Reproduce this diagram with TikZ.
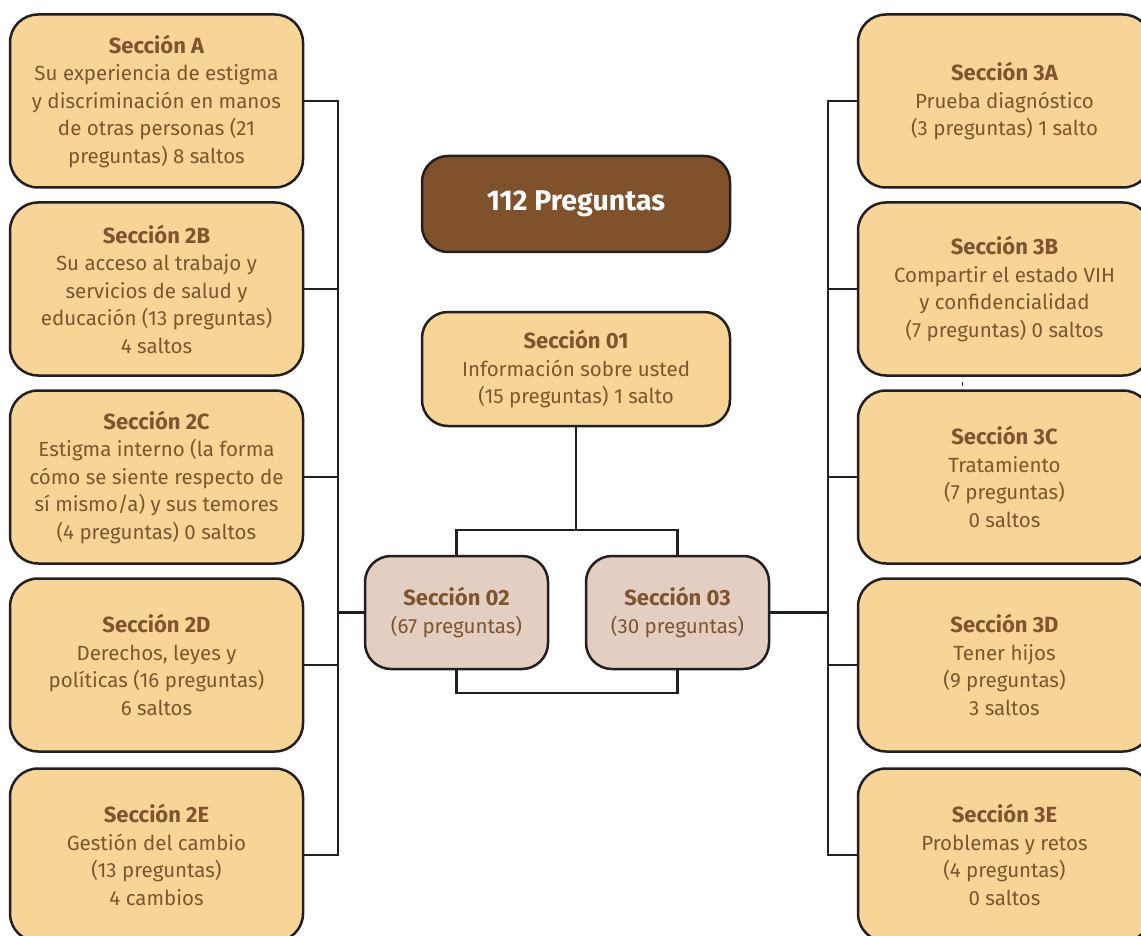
\documentclass[tikz,border=0pt]{standalone}
\usepackage{fontspec}
\setmainfont{Fira Sans}
\definecolor{boxfill}{HTML}{F6D597}
\definecolor{tanfill}{HTML}{E2CFC1}
\definecolor{darkbrown}{HTML}{7F522B}
\definecolor{txtbrown}{HTML}{7F542F}
\definecolor{edge}{HTML}{231F20}
\newcommand{\hd}[1]{{\fontsize{22}{27.5}\selectfont\bfseries #1}}
\tikzset{
  secbox/.style={draw=edge, line width=2.5pt, fill=boxfill, rounded corners=28pt,
    minimum width=293pt, minimum height=173pt, align=center, text=txtbrown,
    font=\fontsize{20.5}{27.5}\selectfont, inner sep=0pt},
  midbox/.style={draw=edge, line width=2.5pt, fill=boxfill, rounded corners=26pt,
    minimum width=308pt, minimum height=114pt, align=center, text=txtbrown,
    font=\fontsize{20.5}{27.5}\selectfont, inner sep=0pt},
  subbox/.style={draw=edge, line width=2.5pt, fill=tanfill, rounded corners=26pt,
    minimum width=183pt, minimum height=113pt, align=center, text=txtbrown,
    font=\fontsize{20.5}{27.5}\selectfont, inner sep=0pt},
  topbox/.style={draw=edge, line width=2.5pt, fill=darkbrown, rounded corners=26pt,
    minimum width=308pt, minimum height=96pt, align=center, text=white,
    font=\fontsize{28.5}{32}\selectfont\bfseries, inner sep=0pt},
  conn/.style={draw=edge, line width=2.2pt},
}
\begin{document}
\begin{tikzpicture}[x=1pt,y=1pt]
\useasboundingbox (0,0) rectangle (1141,-936);
\clip (0,0) rectangle (1141,-936);
% left column
\node[secbox] (A) at (156.5,-101) {\hd{Sección A}\\Su experiencia de estigma\\y discriminación en manos\\de otras personas (21\\preguntas) 8 saltos};
\node[secbox] (B) at (156.5,-289) {\hd{Sección 2B}\\Su acceso al trabajo y\\servicios de salud y\\educación (13 preguntas)\\4 saltos};
\node[secbox] (C) at (156.5,-477) {\hd{Sección 2C}\\Estigma interno (la forma\\cómo se siente respecto de\\sí mismo/a) y sus temores\\(4 preguntas) 0 saltos};
\node[secbox] (D) at (156.5,-665) {\hd{Sección 2D}\\Derechos, leyes y\\políticas (16 preguntas)\\6 saltos};
\node[secbox] (E) at (156.5,-855) {\hd{Sección 2E}\\Gestión del cambio\\(13 preguntas)\\4 cambios};
% right column
\node[secbox] (RA) at (1004.5,-101) {\hd{Sección 3A}\\Prueba diagnóstico\\(3 preguntas) 1 salto};
\node[secbox] (RB) at (1004.5,-289) {\hd{Sección 3B}\\Compartir el estado VIH\\y confidencialidad\\(7 preguntas) 0 saltos};
\node[secbox] (RC) at (1004.5,-477) {\hd{Sección 3C}\\Tratamiento\\(7 preguntas)\\0 saltos};
\node[secbox] (RD) at (1004.5,-665) {\hd{Sección 3D}\\Tener hijos\\(9 preguntas)\\3 saltos};
\node[secbox] (RE) at (1004.5,-855) {\hd{Sección 3E}\\Problemas y retos\\(4 preguntas)\\0 saltos};
% center
\node[topbox] (T) at (576,-204) {112 Preguntas};
\node[midbox] (S1) at (576,-369) {\hd{Sección 01}\\Información sobre usted\\(15 preguntas) 1 salto};
\node[subbox] (S2) at (456.5,-612.5) {\hd{Sección 02}\\(67 preguntas)};
\node[subbox] (S3) at (677.5,-612.5) {\hd{Sección 03}\\(30 preguntas)};
% bus coordinates
\coordinate (lb) at (338,0);
\coordinate (rb) at (828,0);
\coordinate (j) at (0,-530);
\coordinate (bt) at (0,-693);
% left connectors
\draw[conn] (A.east) -- (A.east -| lb) -- (E.east -| lb) -- (E.east);
\foreach \n in {B,C,D} \draw[conn] (\n.east) -- (\n.east -| lb);
\draw[conn] (S2.west) -- (S2.west -| lb);
% right connectors
\draw[conn] (RA.west) -- (RA.west -| rb) -- (RE.west -| rb) -- (RE.west);
\foreach \n in {RB,RC,RD} \draw[conn] (\n.west) -- (\n.west -| rb);
\draw[conn] (S3.east) -- (S3.east -| rb);
% center connectors
\draw[conn] (S1.south) -- (S1.south |- j);
\draw[conn] (S2.north) -- (S2.north |- j) -- (S3.north |- j) -- (S3.north);
\draw[conn] (S2.south) -- (S2.south |- bt) -- (S3.south |- bt) -- (S3.south);
% small tick
\coordinate (tk) at (962,-382);
\draw[edge, line width=0.8pt] (tk) -- ++(0,-4);
\end{tikzpicture}
\end{document}
